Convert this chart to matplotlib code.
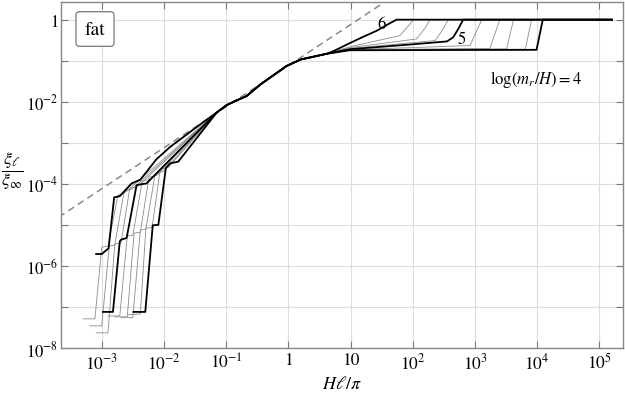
import numpy as np
import matplotlib
matplotlib.use('Agg')
import matplotlib.pyplot as plt
from matplotlib.ticker import FixedLocator, FuncFormatter, NullLocator

plt.rcParams['font.family'] = 'serif'
plt.rcParams['font.serif'] = ['STIXGeneral', 'Liberation Serif', 'DejaVu Serif']
plt.rcParams['mathtext.fontset'] = 'stix'

# all values are log10(H l / pi) and log10(xi_l / xi_inf)
trunk_lx = [-1.15, -0.99, -0.85, -0.67, -0.45, -0.32, -0.03, 0.2, 0.5, 0.62]
trunk_ly = [-2.26, -2.08, -1.98, -1.86, -1.58, -1.44, -1.13, -0.97, -0.87, -0.83]

# left (small l) parts, one per log(m_r/H)
left_6 = ([-3.09, -3.00, -2.89, -2.80, -2.71, -2.52, -2.38, -2.12, -1.90, -1.60, -1.37],
          [-5.71, -5.71, -5.57, -4.33, -4.30, -3.99, -3.90, -3.40, -3.10, -2.76, -2.50])
left_575 = ([-3.30, -3.11, -3.00, -2.90, -2.74, -2.64], [-7.29, -7.29, -5.54, -5.52, -4.28, -4.23])
left_55 = ([-3.19, -3.00, -2.88, -2.79, -2.64, -2.51], [-7.46, -7.46, -5.52, -5.49, -4.18, -4.13])
left_525 = ([-3.09, -2.90, -2.79, -2.69, -2.55, -2.42], [-7.63, -7.63, -5.47, -5.44, -4.11, -4.06])
left_5 = ([-2.98, -2.82, -2.71, -2.69, -2.60, -2.44, -2.28],
          [-7.12, -7.12, -5.40, -5.36, -5.32, -4.03, -3.99])
left_48 = ([-2.90, -2.71, -2.59, -2.50, -2.35, -2.22], [-7.22, -7.22, -5.27, -5.25, -3.94, -3.89])
left_46 = ([-2.79, -2.59, -2.48, -2.38, -2.24, -2.11], [-7.24, -7.24, -5.20, -5.18, -3.84, -3.79])
left_44 = ([-2.69, -2.50, -2.38, -2.29, -2.14, -2.01], [-7.26, -7.26, -5.13, -5.10, -3.75, -3.70])
left_42 = ([-2.58, -2.38, -2.29, -2.19, -2.06, -1.93], [-7.19, -7.17, -5.08, -5.06, -3.65, -3.60])
left_4 = ([-2.49, -2.30, -2.18, -2.09, -1.97, -1.90, -1.77],
          [-7.12, -7.12, -5.01, -5.00, -3.62, -3.50, -3.46])

# right (large l) parts
right_6 = ([0.72, 0.99, 1.2, 1.42, 1.64, 1.74, 5.2], [-0.77, -0.57, -0.42, -0.27, -0.08, 0, 0])
right_575 = ([0.99, 1.79, 1.95, 2.01, 5.2], [-0.66, -0.39, -0.12, 0, 0])
right_55 = ([0.99, 2.06, 2.2, 2.28, 5.2], [-0.68, -0.47, -0.2, 0, 0])
right_525 = ([0.99, 2.36, 2.5, 2.57, 5.2], [-0.70, -0.51, -0.2, 0, 0])
right_5 = ([0.99, 1.5, 2.0, 2.55, 2.65, 2.73, 2.81, 5.2], [-0.72, -0.66, -0.6, -0.53, -0.43, -0.23, 0, 0])
right_48 = ([0.99, 2.0, 2.92, 3.11, 5.2], [-0.73, -0.68, -0.63, 0, 0])
right_46 = ([0.99, 3.24, 3.40, 5.2], [-0.735, -0.70, 0, 0])
right_44 = ([0.99, 3.51, 3.62, 5.2], [-0.74, -0.71, 0, 0])
right_42 = ([0.99, 3.81, 3.91, 5.2], [-0.74, -0.72, 0, 0])
right_4 = ([0.99, 3.99, 4.09, 5.2], [-0.745, -0.735, 0, 0])

# dashed guide, slope 1 in log-log
guide_lx = [-4.0, 2.0]
guide_ly = [-5.12, 0.88]

grey_curves = [(left_575, right_575), (left_55, right_55), (left_525, right_525),
               (left_48, right_48), (left_46, right_46), (left_44, right_44), (left_42, right_42)]
black_curves = [(left_6, right_6), (left_5, right_5), (left_4, right_4)]


def full_curve(left, right):
    lx = np.array(left[0] + trunk_lx + right[0])
    ly = np.array(left[1] + trunk_ly + right[1])
    return 10 ** lx, 10 ** ly


fig = plt.figure(figsize=(6.25, 4.02), dpi=100)
ax = fig.add_axes([0.0976, 0.1318, 0.8992, 0.8607])
ax.set_xscale('log')
ax.set_yscale('log')

ax.plot(10 ** np.array(guide_lx), 10 ** np.array(guide_ly), color='#888888', lw=1.1,
        dashes=(4.5, 3), zorder=2)

for left, right in grey_curves:
    x, y = full_curve(left, right)
    ax.plot(x, y, color='#8c8c8c', lw=0.6, zorder=3)
for left, right in black_curves:
    x, y = full_curve(left, right)
    ax.plot(x, y, color='black', lw=1.3, zorder=4)

ax.set_xlim(10 ** -3.655, 10 ** 5.38)
ax.set_ylim(1e-8, 10 ** 0.43)

x_exps = list(range(-3, 6))
y_exps = list(range(-8, 1))


def dec_label(e):
    if e == 0:
        return '1'
    if e == 1:
        return '10'
    return r'$10^{%d}$' % e


ax.xaxis.set_major_locator(FixedLocator([10.0 ** e for e in x_exps]))
ax.xaxis.set_major_formatter(FuncFormatter(lambda v, p: dec_label(int(round(np.log10(v))))))
ax.yaxis.set_major_locator(FixedLocator([10.0 ** e for e in y_exps]))
ax.yaxis.set_major_formatter(FuncFormatter(
    lambda v, p: dec_label(int(round(np.log10(v)))) if int(round(np.log10(v))) % 2 == 0 else ''))
ax.xaxis.set_minor_locator(NullLocator())
ax.yaxis.set_minor_locator(NullLocator())

ax.tick_params(which='both', direction='in', top=True, right=True, length=5, width=0.8,
               color='#777777', labelsize=12.5)
ax.tick_params(axis='x', pad=3)
ax.tick_params(axis='y', pad=2, labelsize=12)
ax.grid(True, which='major', color='#dddddd', lw=0.8, zorder=0)
for s in ax.spines.values():
    s.set_color('#888888')
    s.set_linewidth(1.0)

ax.set_xlabel(r'$H\ell/\pi$', fontsize=13, labelpad=2)
fig.text(0.019, 0.575, r'$\dfrac{\xi_\ell}{\xi_\infty}$', fontsize=13, ha='center', va='center')

ax.text(10 ** 1.50, 10 ** -0.10, '6', fontsize=12, ha='center', va='center', zorder=5)
ax.text(10 ** 2.79, 10 ** -0.47, '5', fontsize=12, ha='center', va='center', zorder=5)
ax.text(10 ** 3.99, 10 ** -1.44, r'$\log(m_r/H) = 4$', fontsize=12, ha='center', va='center', zorder=5)

ax.text(0.0605, 0.922, 'fat', transform=ax.transAxes, fontsize=14, ha='center', va='center',
        bbox=dict(boxstyle='round,pad=0.45,rounding_size=0.2', fc='white', ec='#777777', lw=0.9),
        zorder=6)

fig.savefig('out.png', dpi=100)
